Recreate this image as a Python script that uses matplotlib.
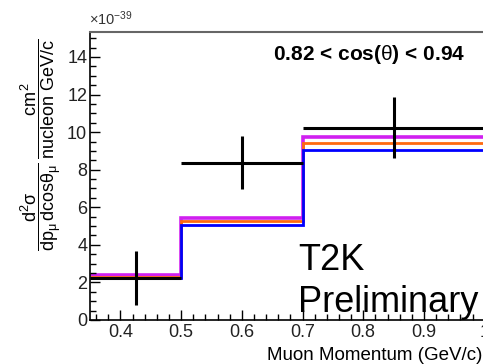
import numpy as np
import matplotlib
matplotlib.use("Agg")
import matplotlib.pyplot as plt
from matplotlib.ticker import MultipleLocator

plt.rcParams['font.family'] = ['Liberation Sans', 'DejaVu Sans']
plt.rcParams['mathtext.fontset'] = 'custom'
plt.rcParams['mathtext.rm'] = 'Liberation Sans'
plt.rcParams['mathtext.it'] = 'Liberation Sans'
plt.rcParams['mathtext.bf'] = 'Liberation Sans:bold'

# momentum bin edges (GeV/c) for 0.82 < cos(theta) < 0.94
edges = [0.35, 0.5, 0.7, 1.0]

# measured cross section (x 1e-39 cm^2 / nucleon GeV/c)
data_y = [2.23, 8.37, 10.23]
data_err = [1.45, 1.40, 1.63]

# model predictions
model_magenta = [2.39, 5.43, 9.72]
model_orange = [2.31, 5.27, 9.43]
model_blue = [2.25, 5.05, 9.04]

edges = np.array(edges)
centers = 0.5 * (edges[:-1] + edges[1:])
halfw = 0.5 * (edges[1:] - edges[:-1])

fig = plt.figure(figsize=(4.83, 3.64), dpi=100)
ax = fig.add_axes([90 / 483, 1 - 320 / 364, 425 / 483, 288 / 364])

ax.stairs(model_magenta, edges, baseline=None, color='#d020f0', lw=2.6)
ax.stairs(model_orange, edges, baseline=None, color='#ff6a10', lw=2.0)
ax.stairs(model_blue, edges, baseline=None, color='#0000ff', lw=2.0)
ax.errorbar(centers, data_y, xerr=halfw, yerr=data_err, fmt='none',
            ecolor='black', elinewidth=2.2, capsize=0)

ax.set_xlim(0.35, 1.05)
ax.set_ylim(0, 15.33)

ax.xaxis.set_minor_locator(MultipleLocator(0.02))
ax.yaxis.set_minor_locator(MultipleLocator(0.5))
ax.tick_params(which='both', direction='in', top=False, right=False,
               labelsize=13, labelcolor='#222222', width=1)
ax.tick_params(which='major', length=7.5)
ax.tick_params(which='minor', length=4)
ax.tick_params(axis='x', pad=3)
ax.tick_params(axis='y', pad=2)
ax.set_xticks(np.arange(0.4, 1.05, 0.1))
ax.set_xticklabels(['0.4', '0.5', '0.6', '0.7', '0.8', '0.9', '1'])
ax.set_yticks(np.arange(0, 15, 2))
ax.set_yticklabels([str(v) for v in range(0, 15, 2)])

for s in ['left', 'bottom']:
    ax.spines[s].set_linewidth(1.2)
ax.spines['top'].set_color('#666666')
ax.spines['top'].set_linewidth(1.5)

fig.text(369 / 483, 1 - 55 / 364, r'0.82 < cos($\theta$) < 0.94', ha='center',
         va='center', fontsize=15, fontweight='bold')
fig.text(298 / 483, 1 - 270 / 364, 'T2K', ha='left', va='baseline', fontsize=26)
fig.text(298 / 483, 1 - 312 / 364, 'Preliminary', ha='left', va='baseline',
         fontsize=26)

fig.text(89 / 483, 1 - 19 / 364, r'$\times10^{-39}$', ha='left', va='center',
         fontsize=10.5, color='#333333')
fig.text(0.998, 1 - 355 / 364, 'Muon Momentum (GeV/c)', ha='right',
         va='center', fontsize=13.5)

ylab = (r'$\dfrac{\mathrm{d^2\sigma}}{\mathrm{dp_{\mu}\,dcos\theta_{\mu}}}'
        r'\;\dfrac{\mathrm{cm^2}}{\mathrm{nucleon\ GeV/c}}$')
fig.text(41 / 483, 1 - 145 / 364, ylab, rotation=90, ha='center', va='center',
         fontsize=13)

fig.savefig('out.png', dpi=100)
